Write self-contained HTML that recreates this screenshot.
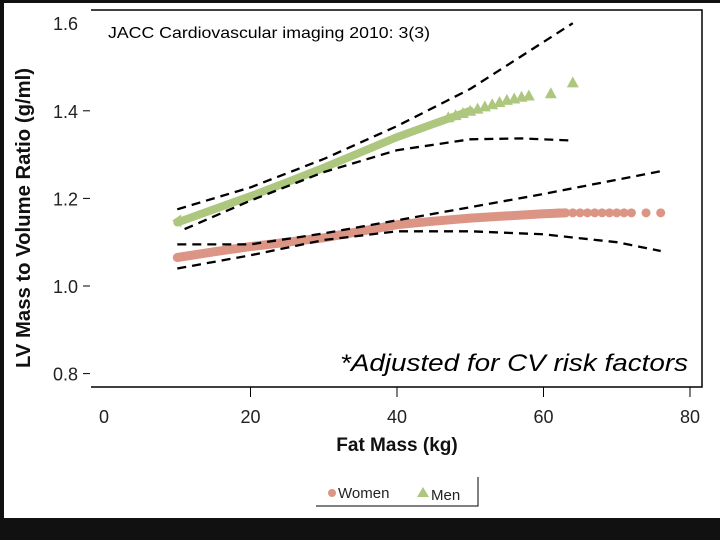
<!DOCTYPE html>
<html><head><meta charset="utf-8"><style>
html,body{margin:0;padding:0;background:#111;}
#wrap{position:relative;width:720px;height:540px;background:#111;overflow:hidden;}
svg{position:absolute;left:0;top:0;}
text{font-family:"Liberation Sans",Arial,sans-serif;}
</style></head><body>
<div id="wrap">
<svg id="chart" width="720" height="540">
<rect x="4" y="3" width="716" height="515" fill="#fff"/>
</svg>
</div>
<script>
const xTicks=[0,20,40,60,80];
const yTicks=[0.8,1.0,1.2,1.4,1.6];
const yTickLabels=["0.8","1.0","1.2","1.4","1.6"];
const menX=[10,15,20,25,30,35,40,45,50];
const menY=[1.145,1.175,1.205,1.237,1.27,1.305,1.34,1.37,1.40];
const menMarkX=[47,48,49,50,51,52,53,54,55,56,57,58,61,64];
const menMarkY=[1.385,1.39,1.395,1.40,1.405,1.41,1.415,1.42,1.425,1.428,1.432,1.435,1.44,1.465];
const womenX=[10,15,20,25,30,35,40,45,50,55,60,63];
const womenY=[1.065,1.078,1.09,1.1,1.11,1.125,1.14,1.148,1.155,1.16,1.165,1.167];
const womenMarkX=[62,63,64,65,66,67,68,69,70,71,72,74,76];
const womenMarkY=[1.167,1.167,1.167,1.167,1.167,1.167,1.167,1.167,1.167,1.167,1.167,1.167,1.167];
const menUpX=[10,20,30,40,50,64];
const menUpY=[1.175,1.225,1.29,1.365,1.45,1.60];
const menLoX=[11,20,30,40,50,57,64];
const menLoY=[1.13,1.195,1.26,1.31,1.335,1.337,1.332];
const womenUpX=[10,20,30,40,50,60,76];
const womenUpY=[1.095,1.095,1.12,1.15,1.18,1.21,1.262];
const womenLoX=[10,20,30,40,50,60,70,76];
const womenLoY=[1.04,1.07,1.105,1.125,1.125,1.118,1.1,1.08];

const NS="http://www.w3.org/2000/svg";
const svg=document.getElementById('chart');
const X=v=>104+v*7.325;
const Y=v=>286-(v-1.0)*438;
function mk(tag,attrs,parent){const e=document.createElementNS(NS,tag);for(const k in attrs)e.setAttribute(k,attrs[k]);(parent||svg).appendChild(e);return e;}
function pts(xs,ys){return xs.map((x,i)=>X(x).toFixed(1)+","+Y(ys[i]).toFixed(1)).join(" ");}

let e;
e=mk('polyline',{points:"91,10 702,10 702,387 91,387",fill:"none",stroke:"#000","stroke-width":1.5});


xTicks.forEach((t,i)=>{
  if(i>0){e=mk('line',{x1:X(t),x2:X(t),y1:387,y2:397,stroke:"#000","stroke-width":1});
  
  }
  e=mk('text',{x:X(t),y:423,"text-anchor":"middle","font-size":18,fill:"#222"});e.textContent=String(t);
  
  
});
yTicks.forEach((t,i)=>{
  e=mk('text',{x:78,y:Y(t)+7,"text-anchor":"end","font-size":18,fill:"#222"});e.textContent=yTickLabels[i];
  
  
  if(t!==1.6){e=mk('line',{x1:83,x2:90,y1:Y(t),y2:Y(t),stroke:"#000","stroke-width":1});
  
  }
});
// series
e=mk('polyline',{points:pts(womenX,womenY),fill:"none",stroke:"#dc9585","stroke-width":9,"stroke-linecap":"round"});


womenMarkX.forEach((x,i)=>{e=mk('circle',{cx:X(x),cy:Y(womenMarkY[i]),r:4.5,fill:"#dc9585"});
  
  });
e=mk('polyline',{points:pts(menX,menY),fill:"none",stroke:"#aec77f","stroke-width":8,"stroke-linecap":"round"});


menMarkX.forEach((x,i)=>{const cx=X(x),cy=Y(menMarkY[i]);
  e=mk('polygon',{points:`${cx},${cy-6} ${cx-6},${cy+5} ${cx+6},${cy+5}`,fill:"#aec77f"});
  
  });
e=mk('polygon',{points:`${X(10)-5},${Y(1.145)-2} ${X(10)+4},${Y(1.145)-8} ${X(10)+4},${Y(1.145)+5}`,fill:"#aec77f"});


[[menUpX,menUpY,'men-ci-upper'],[menLoX,menLoY,'men-ci-lower'],[womenUpX,womenUpY,'women-ci-upper'],[womenLoX,womenLoY,'women-ci-lower']].forEach(s=>{
  e=mk('polyline',{points:pts(s[0],s[1]),fill:"none",stroke:"#000","stroke-width":2.3,"stroke-dasharray":"9,6"});
  
  
});
// texts
e=mk('text',{x:108,y:38,"font-size":16,fill:"#000",textLength:322,lengthAdjust:"spacingAndGlyphs"});e.textContent="JACC Cardiovascular imaging 2010: 3(3)";


e=mk('text',{x:340,y:371,"font-size":24,"font-style":"italic",fill:"#000",textLength:348,lengthAdjust:"spacingAndGlyphs"});e.textContent="*Adjusted for CV risk factors";


e=mk('text',{x:397,y:451,"text-anchor":"middle","font-size":19,"font-weight":"bold",fill:"#111"});e.textContent="Fat Mass (kg)";


e=mk('text',{x:0,y:0,"text-anchor":"middle","font-size":20,"font-weight":"bold",fill:"#111",transform:"translate(30,218) rotate(-90)",textLength:300,lengthAdjust:"spacingAndGlyphs"});e.textContent="LV Mass to Volume Ratio (g/ml)";


// legend
e=mk('polyline',{points:"316,506 478,506 478,477",fill:"none",stroke:"#000","stroke-width":1});


e=mk('circle',{cx:332,cy:493,r:4,fill:"#dc9585"});


e=mk('text',{x:338,y:498,"font-size":15,fill:"#222"});e.textContent="Women";


e=mk('polygon',{points:"423,487 417,497 429,497",fill:"#aec77f"});


e=mk('text',{x:431,y:500,"font-size":15,fill:"#222"});e.textContent="Men";


</script>
</body></html>
